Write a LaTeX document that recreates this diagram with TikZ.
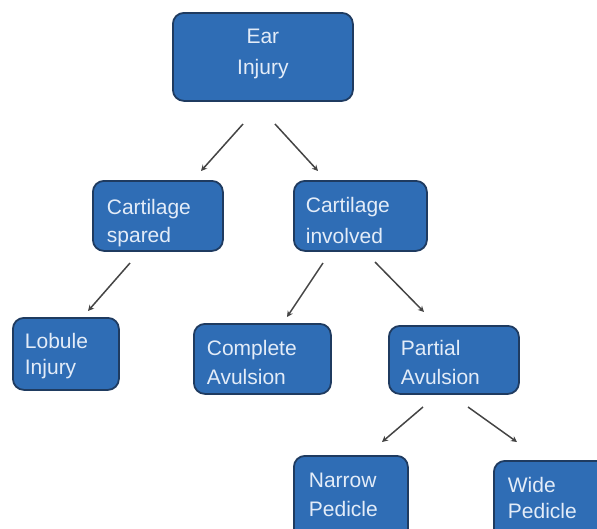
\documentclass[tikz,border=0pt]{standalone}
\usepackage{fontspec}
\setmainfont{Liberation Sans}
\usetikzlibrary{arrows.meta}
\definecolor{boxfill}{HTML}{2F6DB5}
\definecolor{boxline}{HTML}{1F3B60}
\definecolor{boxtext}{HTML}{E3ECF8}
\definecolor{arrowc}{HTML}{444444}
\tikzset{
  boxnode/.style={draw=boxline, fill=boxfill, line width=1.8pt, rounded corners=11pt,
    text=boxtext, font=\fontsize{21}{28.5}\selectfont, anchor=north west,
    inner ysep=0pt, align=left},
  conn/.style={draw=arrowc, line width=1.5pt, -{Stealth[length=6pt,width=6pt]}}
}
\begin{document}
\begin{tikzpicture}[x=1pt,y=-1pt]
\useasboundingbox (0,0) rectangle (597,528);
\clip (0,0) rectangle (597,528);
% nodes: (left,top), width, xsep, height above first baseline, depth
\node[boxnode, align=center, font=\fontsize{21}{31}\selectfont, inner xsep=10pt, text width=160pt, minimum width=180pt, text height=30.7pt, text depth=57.3pt] (ear) at (172,12) {Ear\\Injury};
\node[boxnode, inner xsep=14pt, text width=102pt, minimum width=130pt, text height=33.3pt, text depth=36.7pt] (cs) at (92,180) {Cartilage\\spared};
\node[boxnode, font=\fontsize{21}{31}\selectfont, inner xsep=12pt, text width=109pt, minimum width=133pt, text height=31.7pt, text depth=38.3pt] (ci) at (293,180) {Cartilage\\involved};
\node[boxnode, font=\fontsize{21}{26}\selectfont, inner xsep=12pt, text width=82pt, minimum width=106pt, text height=31pt, text depth=41pt] (lob) at (12,317) {Lobule\\Injury};
\node[boxnode, inner xsep=13pt, text width=111pt, minimum width=137pt, text height=32pt, text depth=38pt] (comp) at (193,323) {Complete\\Avulsion};
\node[boxnode, inner xsep=12pt, text width=106pt, minimum width=130pt, text height=30pt, text depth=38pt] (part) at (388,325) {Partial\\Avulsion};
\node[boxnode, inner xsep=15pt, text width=84pt, minimum width=114pt, text height=32pt, text depth=53pt] (nar) at (293,455) {Narrow\\Pedicle};
\node[boxnode, font=\fontsize{21}{26}\selectfont, inner xsep=14pt, text width=89pt, minimum width=117pt, text height=32pt, text depth=53pt] (wide) at (493,460) {Wide\\Pedicle};
% arrow end points
\coordinate (a1s) at (243,124); \coordinate (a1e) at (201,171);
\coordinate (a2s) at (275,124); \coordinate (a2e) at (318,171);
\coordinate (a3s) at (130,263); \coordinate (a3e) at (88,311);
\coordinate (a4s) at (323,263); \coordinate (a4e) at (287,317);
\coordinate (a5s) at (375,262); \coordinate (a5e) at (424,312);
\coordinate (a6s) at (423,407); \coordinate (a6e) at (382,442);
\coordinate (a7s) at (468,407); \coordinate (a7e) at (517,442);
\draw[conn] (a1s) -- (a1e);
\draw[conn] (a2s) -- (a2e);
\draw[conn] (a3s) -- (a3e);
\draw[conn] (a4s) -- (a4e);
\draw[conn] (a5s) -- (a5e);
\draw[conn] (a6s) -- (a6e);
\draw[conn] (a7s) -- (a7e);
\end{tikzpicture}
\end{document}
